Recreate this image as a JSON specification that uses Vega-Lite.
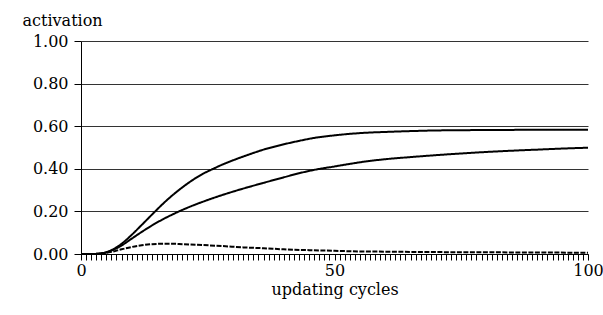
{
  "$schema": "https://vega.github.io/schema/vega-lite/v6.json",
  "width": 507,
  "height": 213,
  "autosize": "none",
  "padding": {"left": 81, "top": 41, "right": 15, "bottom": 61},
  "background": "white",
  "config": {
    "view": {"stroke": null},
    "font": "DejaVu Serif",
    "axis": {
      "labelFont": "DejaVu Serif",
      "titleFont": "DejaVu Serif",
      "labelColor": "black", "titleColor": "black", "domainColor": "black", "tickColor": "black",
      "labelFontSize": 16, "titleFontSize": 16, "titleFontWeight": "normal",
      "labelOverlap": false
    },
    "axisX": {
      "grid": false, "tickSize": 6, "labelPadding": 2, "titlePadding": 3, "labelFlush": false,
      "labelOverlap": false
    },
    "axisY": {
      "grid": true, "gridColor": "#333", "gridWidth": 1, "tickSize": 7, "labelPadding": 6,
      "titleAngle": 0, "titleAlign": "left", "titleBaseline": "alphabetic", "titleX": -59, "titleY": -16
    }
  },
  "datasets": {
    "curves": [
      {"cycle": 0, "activation": 0, "unit": "curve 1"},
      {"cycle": 2, "activation": 0, "unit": "curve 1"},
      {"cycle": 4, "activation": 0.003, "unit": "curve 1"},
      {"cycle": 6, "activation": 0.018, "unit": "curve 1"},
      {"cycle": 8, "activation": 0.048, "unit": "curve 1"},
      {"cycle": 10, "activation": 0.09, "unit": "curve 1"},
      {"cycle": 12, "activation": 0.137, "unit": "curve 1"},
      {"cycle": 14, "activation": 0.185, "unit": "curve 1"},
      {"cycle": 16, "activation": 0.232, "unit": "curve 1"},
      {"cycle": 18, "activation": 0.275, "unit": "curve 1"},
      {"cycle": 20, "activation": 0.313, "unit": "curve 1"},
      {"cycle": 22, "activation": 0.347, "unit": "curve 1"},
      {"cycle": 24, "activation": 0.376, "unit": "curve 1"},
      {"cycle": 26, "activation": 0.399, "unit": "curve 1"},
      {"cycle": 28, "activation": 0.421, "unit": "curve 1"},
      {"cycle": 30, "activation": 0.44, "unit": "curve 1"},
      {"cycle": 33, "activation": 0.466, "unit": "curve 1"},
      {"cycle": 36, "activation": 0.49, "unit": "curve 1"},
      {"cycle": 40, "activation": 0.515, "unit": "curve 1"},
      {"cycle": 43, "activation": 0.531, "unit": "curve 1"},
      {"cycle": 46, "activation": 0.545, "unit": "curve 1"},
      {"cycle": 50, "activation": 0.557, "unit": "curve 1"},
      {"cycle": 53, "activation": 0.564, "unit": "curve 1"},
      {"cycle": 56, "activation": 0.569, "unit": "curve 1"},
      {"cycle": 60, "activation": 0.573, "unit": "curve 1"},
      {"cycle": 65, "activation": 0.577, "unit": "curve 1"},
      {"cycle": 70, "activation": 0.58, "unit": "curve 1"},
      {"cycle": 80, "activation": 0.582, "unit": "curve 1"},
      {"cycle": 90, "activation": 0.583, "unit": "curve 1"},
      {"cycle": 100, "activation": 0.583, "unit": "curve 1"},
      {"cycle": 0, "activation": 0, "unit": "curve 2"},
      {"cycle": 2, "activation": 0, "unit": "curve 2"},
      {"cycle": 4, "activation": 0.003, "unit": "curve 2"},
      {"cycle": 6, "activation": 0.016, "unit": "curve 2"},
      {"cycle": 8, "activation": 0.04, "unit": "curve 2"},
      {"cycle": 10, "activation": 0.072, "unit": "curve 2"},
      {"cycle": 12, "activation": 0.104, "unit": "curve 2"},
      {"cycle": 14, "activation": 0.134, "unit": "curve 2"},
      {"cycle": 16, "activation": 0.161, "unit": "curve 2"},
      {"cycle": 18, "activation": 0.185, "unit": "curve 2"},
      {"cycle": 20, "activation": 0.207, "unit": "curve 2"},
      {"cycle": 22, "activation": 0.227, "unit": "curve 2"},
      {"cycle": 24, "activation": 0.245, "unit": "curve 2"},
      {"cycle": 26, "activation": 0.262, "unit": "curve 2"},
      {"cycle": 28, "activation": 0.278, "unit": "curve 2"},
      {"cycle": 30, "activation": 0.293, "unit": "curve 2"},
      {"cycle": 33, "activation": 0.314, "unit": "curve 2"},
      {"cycle": 36, "activation": 0.334, "unit": "curve 2"},
      {"cycle": 40, "activation": 0.36, "unit": "curve 2"},
      {"cycle": 43, "activation": 0.379, "unit": "curve 2"},
      {"cycle": 46, "activation": 0.395, "unit": "curve 2"},
      {"cycle": 50, "activation": 0.411, "unit": "curve 2"},
      {"cycle": 53, "activation": 0.423, "unit": "curve 2"},
      {"cycle": 56, "activation": 0.434, "unit": "curve 2"},
      {"cycle": 60, "activation": 0.445, "unit": "curve 2"},
      {"cycle": 65, "activation": 0.455, "unit": "curve 2"},
      {"cycle": 70, "activation": 0.464, "unit": "curve 2"},
      {"cycle": 75, "activation": 0.472, "unit": "curve 2"},
      {"cycle": 80, "activation": 0.479, "unit": "curve 2"},
      {"cycle": 85, "activation": 0.485, "unit": "curve 2"},
      {"cycle": 90, "activation": 0.49, "unit": "curve 2"},
      {"cycle": 95, "activation": 0.495, "unit": "curve 2"},
      {"cycle": 100, "activation": 0.499, "unit": "curve 2"},
      {"cycle": 0, "activation": 0, "unit": "curve 3"},
      {"cycle": 2, "activation": 0, "unit": "curve 3"},
      {"cycle": 4, "activation": 0.002, "unit": "curve 3"},
      {"cycle": 6, "activation": 0.01, "unit": "curve 3"},
      {"cycle": 8, "activation": 0.022, "unit": "curve 3"},
      {"cycle": 10, "activation": 0.033, "unit": "curve 3"},
      {"cycle": 12, "activation": 0.041, "unit": "curve 3"},
      {"cycle": 14, "activation": 0.046, "unit": "curve 3"},
      {"cycle": 16, "activation": 0.048, "unit": "curve 3"},
      {"cycle": 18, "activation": 0.048, "unit": "curve 3"},
      {"cycle": 20, "activation": 0.046, "unit": "curve 3"},
      {"cycle": 24, "activation": 0.042, "unit": "curve 3"},
      {"cycle": 28, "activation": 0.037, "unit": "curve 3"},
      {"cycle": 32, "activation": 0.031, "unit": "curve 3"},
      {"cycle": 36, "activation": 0.027, "unit": "curve 3"},
      {"cycle": 40, "activation": 0.022, "unit": "curve 3"},
      {"cycle": 45, "activation": 0.018, "unit": "curve 3"},
      {"cycle": 50, "activation": 0.015, "unit": "curve 3"},
      {"cycle": 55, "activation": 0.012, "unit": "curve 3"},
      {"cycle": 60, "activation": 0.011, "unit": "curve 3"},
      {"cycle": 70, "activation": 0.009, "unit": "curve 3"},
      {"cycle": 80, "activation": 0.008, "unit": "curve 3"},
      {"cycle": 90, "activation": 0.007, "unit": "curve 3"},
      {"cycle": 100, "activation": 0.006, "unit": "curve 3"}
    ]
  },
  "encoding": {
    "x": {
      "type": "quantitative",
      "scale": {"domain": [0, 100], "nice": false, "zero": false},
      "axis": {
        "values": [0,1,2,3,4,5,6,7,8,9,10,11,12,13,14,15,16,17,18,19,20,21,22,23,24,25,26,27,28,29,30,31,32,33,34,35,36,37,38,39,40,41,42,43,44,45,46,47,48,49,50,51,52,53,54,55,56,57,58,59,60,61,62,63,64,65,66,67,68,69,70,71,72,73,74,75,76,77,78,79,80,81,82,83,84,85,86,87,88,89,90,91,92,93,94,95,96,97,98,99,100],
        "labelExpr": "datum.value % 50 === 0 ? datum.label : ''",
        "labelOverlap": false,
        "title": "updating cycles"
      }
    },
    "y": {
      "type": "quantitative",
      "scale": {"domain": [0, 1], "nice": false},
      "axis": {
        "values": [0, 0.2, 0.4, 0.6, 0.8, 1],
        "format": ".2f",
        "title": "activation"
      }
    }
  },
  "layer": [
    {
      "data": {"name": "curves"},
      "mark": {"type": "line", "interpolate": "monotone", "strokeWidth": 2, "color": "black", "clip": false},
      "encoding": {
        "x": {"field": "cycle", "type": "quantitative"},
        "y": {"field": "activation", "type": "quantitative"},
        "detail": {"field": "unit"},
        "strokeDash": {
          "field": "unit", "type": "nominal",
          "scale": {"domain": ["curve 1", "curve 2", "curve 3"], "range": [[1, 0], [1, 0], [5, 1.5]]},
          "legend": null
        }
      }
    },
    {
      "mark": {"type": "rule", "color": "black", "strokeWidth": 2, "clip": false},
      "encoding": {
        "x": {"datum": -13.31, "type": "quantitative"},
        "y": {"datum": -0.4, "type": "quantitative"},
        "y2": {"datum": 1.162}
      }
    },
    {
      "mark": {"type": "rule", "color": "black", "strokeWidth": 2, "clip": false},
      "encoding": {
        "x": {"datum": -13.5, "type": "quantitative"},
        "x2": {"datum": 110},
        "y": {"datum": 1.162, "type": "quantitative"}
      }
    }
  ]
}
